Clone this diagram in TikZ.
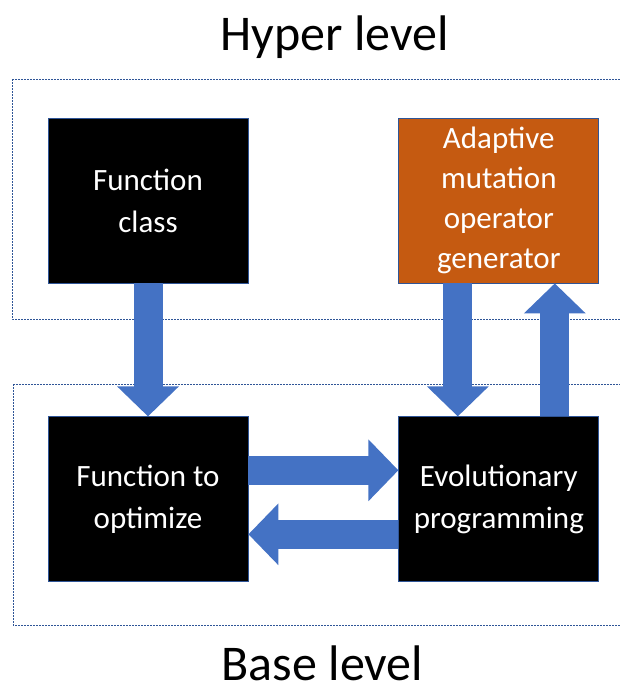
\documentclass[tikz,border=0pt]{standalone}
\usepackage{fontspec}
\setmainfont{Carlito}
\usetikzlibrary{positioning,arrows.meta}
\definecolor{cBlu}{RGB}{68,114,196}
\definecolor{cEdge}{RGB}{47,85,151}
\definecolor{cOrg}{RGB}{197,90,17}

\begin{document}
\begin{tikzpicture}[
  x=1pt, y=-1pt,
  box/.style   = {draw=cEdge, line width=0.8pt, fill=black, text=white, align=center,
                  minimum width=200pt, minimum height=165pt, inner sep=2pt,
                  font=\fontsize{31}{42}\selectfont},
  lvl/.style   = {anchor=base, inner sep=0pt, font=\fontsize{50}{60}\selectfont},
  frame/.style = {draw=cEdge, line width=0.8pt, dash pattern=on 2pt off 1pt},
  flow/.style  = {draw=cBlu, line width=29pt,
                  -{Triangle[length=30pt, width=60pt]}}
]
\clip (0,0) rectangle (620,691);

% ------------------------------------------------------------- i livelli --
\draw[frame] (12,79)  rectangle (640,319);
\draw[frame] (13,384) rectangle (640,625);
\node[lvl] (hyper) at (334.5,50)  {Hyper level};
\node[lvl] (base)  at (322.5,680) {Base level};

% ---------------------------------------------------------------- blocchi --
\node[box] (fc) at (148,200.5)        {Function\\class};
\node[box, fill=cOrg, right=150pt of fc,
      font=\fontsize{31}{40}\selectfont] (amog) {Adaptive\\mutation\\operator\\generator};
\node[box, below=133pt of fc]         (fto) {Function to\\optimize};
\node[box, right=150pt of fto]        (ep)  {Evolutionary\\programming};

% ------------------------------------------------------------------- archi --
\draw[flow] (fc) -- (fto);
\draw[flow] ([yshift=29pt]fto.east)  -- ([yshift=29pt]ep.west);
\draw[flow] ([yshift=-35pt]ep.west)  -- ([yshift=-35pt]fto.east);
\draw[flow] ([xshift=-41pt]amog.south) -- ([xshift=-41pt]ep.north);
\draw[flow] ([xshift=56pt]ep.north)  -- ([xshift=56pt]amog.south);

\end{tikzpicture}
\end{document}
